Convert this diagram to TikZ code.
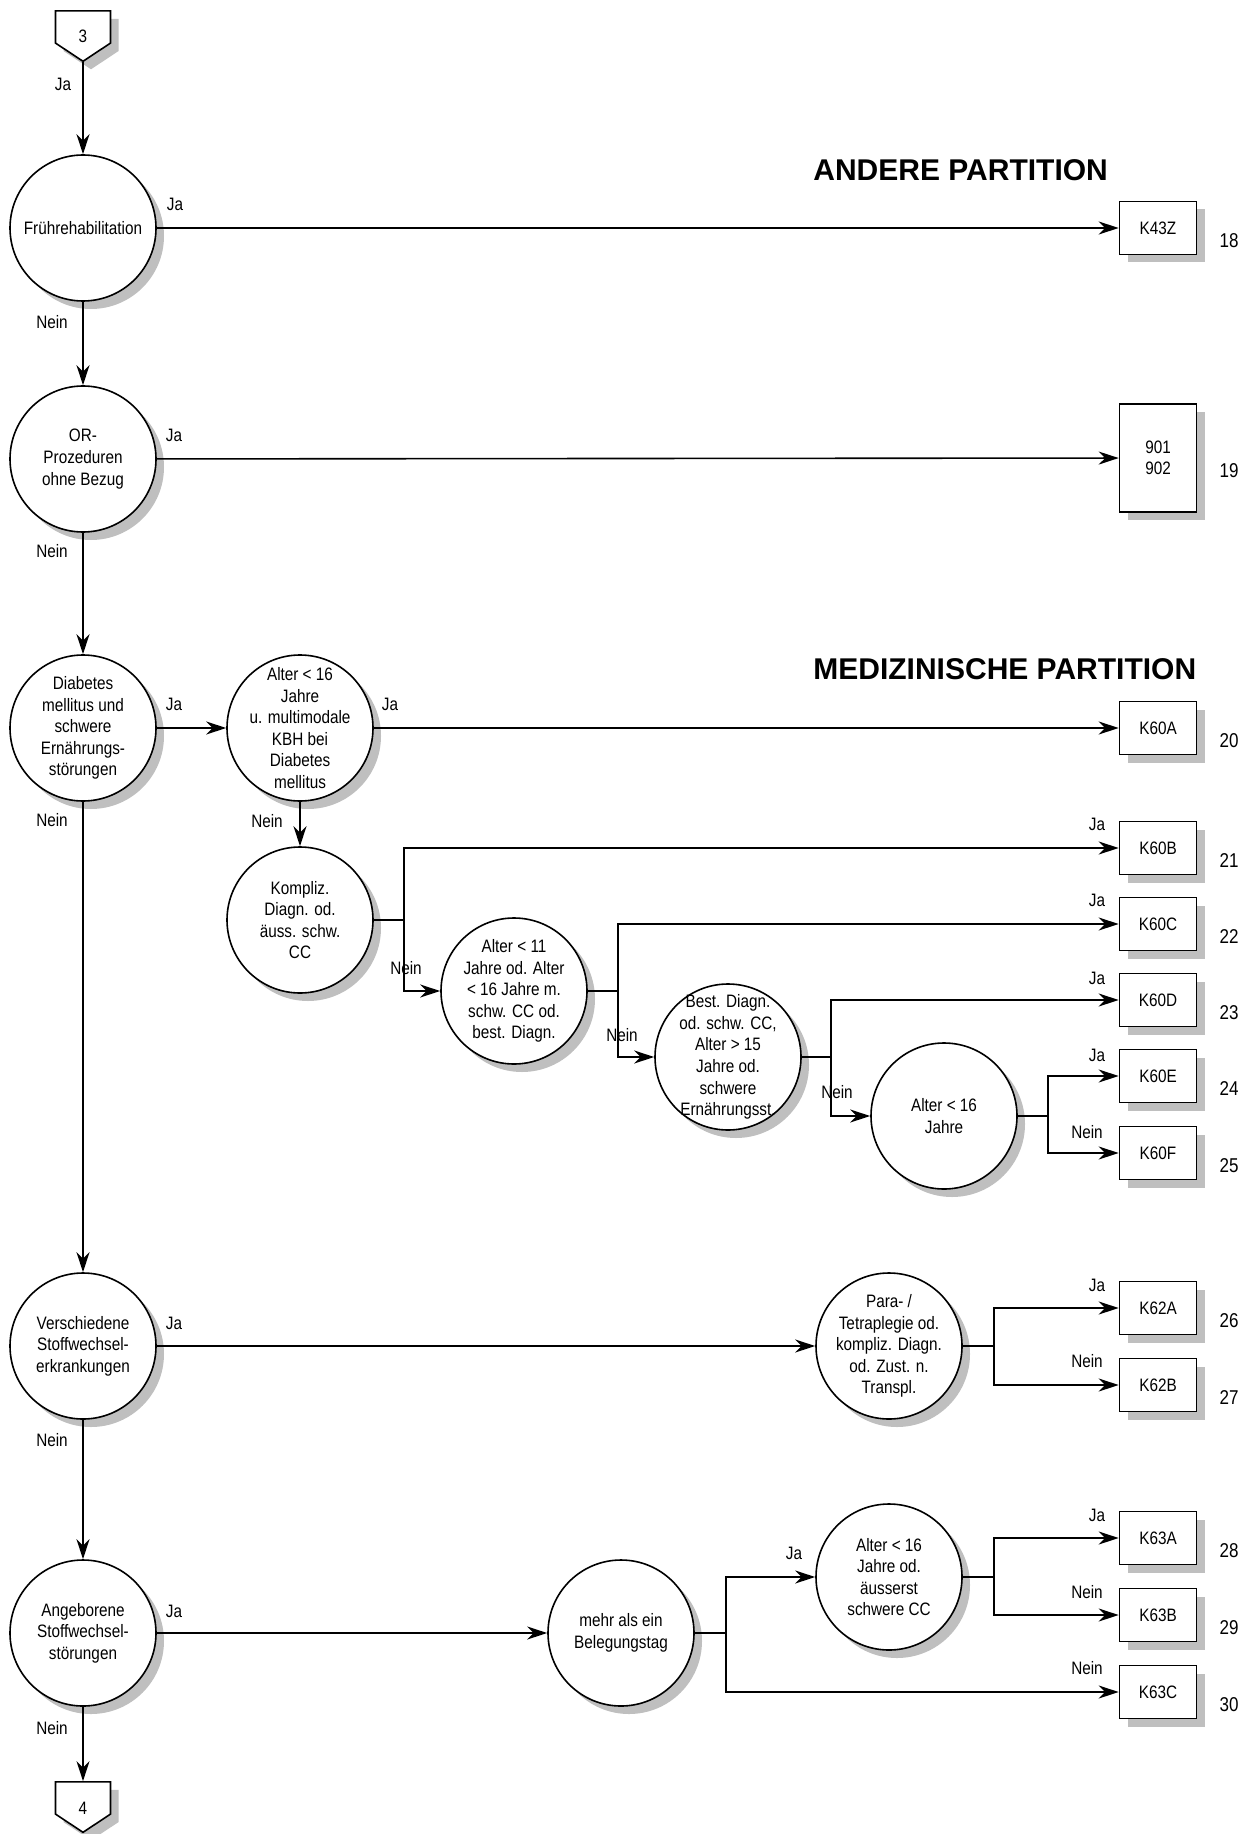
\documentclass[tikz,border=0pt]{standalone}
\usepackage{fontspec}
\setmainfont{Liberation Sans}[FakeStretch=0.85]
\newfontfamily\headfont{Liberation Sans}
\usetikzlibrary{arrows.meta,shadows,shapes.symbols}

\tikzset{
  shdw/.style={drop shadow={shadow xshift=4pt,shadow yshift=-4pt,fill=black!25,opacity=1}},
  dec/.style={circle, draw, fill=white, line width=0.8pt, minimum size=73pt, inner sep=-8pt, align=center, shdw},
  leaf/.style={rectangle, draw, fill=white, line width=0.8pt, minimum width=38.5pt, minimum height=26.5pt, align=center, shdw},
  conn/.style={signal, signal to=south, signal pointer angle=113, draw, fill=white, line width=0.8pt, minimum width=27.5pt, minimum height=17.5pt, inner sep=0pt, text height=16pt, text depth=0pt, shdw},
  lab/.style={inner sep=0pt},
  nr/.style={inner sep=0pt, font=\fontsize{10}{12}\selectfont},
  head/.style={inner sep=0pt, anchor=west, font=\headfont\bfseries\fontsize{15}{18}\selectfont},
  arr/.style={-{Stealth[length=10pt,width=6.5pt]}, line width=0.8pt}
}

\begin{document}
\begin{tikzpicture}[x=0.5pt, y=-0.5pt, font=\fontsize{9}{10.8}\selectfont]
\useasboundingbox (0,0) rectangle (1253,1834);

% Headings
\node[head] (andere) at (813,170) {ANDERE PARTITION};
\node[head] (medizin) at (813,669) {MEDIZINISCHE PARTITION};

% Connectors
\node[conn] (c3) at (83,27) {3};
\node[conn] (c4) at (83,1798) {4};

% Main column
\node[dec] (fr) at (83,228) {Frührehabilitation};
\node[dec] (orp) at (83,459) {OR-\\Prozeduren\\ohne Bezug};
\node[dec] (diab) at (83,728) {Diabetes\\mellitus und\\schwere\\Ernährungs-\\störungen};
\node[dec] (vers) at (83,1346) {Verschiedene\\Stoffwechsel-\\erkrankungen};
\node[dec] (ang) at (83,1633) {Angeborene\\Stoffwechsel-\\störungen};

% Diabetes branch
\node[dec] (a16) at (300,728) {Alter < 16\\Jahre\\u. multimodale\\KBH bei\\Diabetes\\mellitus};
\node[dec] (kompl) at (300,920) {Kompliz.\\Diagn. od.\\äuss. schw.\\CC};
\node[dec] (a11) at (514,991) {Alter < 11\\Jahre od. Alter\\< 16 Jahre m.\\schw. CC od.\\best. Diagn.};
\node[dec] (best) at (728,1057) {Best. Diagn.\\od. schw. CC,\\Alter > 15\\Jahre od.\\schwere\\Ernährungsst.};
\node[dec] (a16j) at (944,1116) {Alter < 16\\Jahre};

% Other branches
\node[dec] (para) at (889,1346) {Para- /\\Tetraplegie od.\\kompliz. Diagn.\\od. Zust. n.\\Transpl.};
\node[dec] (mehr) at (621,1633) {mehr als ein\\Belegungstag};
\node[dec] (a16s) at (889,1577) {Alter < 16\\Jahre od.\\äusserst\\schwere CC};

% Leaves
\node[leaf] (k43z) at (1158,228) {K43Z};
\node[leaf, minimum height=54pt] (or90) at (1158,458) {901\\902};
\node[leaf] (k60a) at (1158,728) {K60A};
\node[leaf] (k60b) at (1158,848) {K60B};
\node[leaf] (k60c) at (1158,924) {K60C};
\node[leaf] (k60d) at (1158,1000) {K60D};
\node[leaf] (k60e) at (1158,1076) {K60E};
\node[leaf] (k60f) at (1158,1153) {K60F};
\node[leaf] (k62a) at (1158,1308) {K62A};
\node[leaf] (k62b) at (1158,1385) {K62B};
\node[leaf] (k63a) at (1158,1538) {K63A};
\node[leaf] (k63b) at (1158,1615) {K63B};
\node[leaf] (k63c) at (1158,1692) {K63C};

% Numbers
\node[nr] (n18) at (1229,241) {18};
\node[nr] (n19) at (1229,471) {19};
\node[nr] (n20) at (1229,741) {20};
\node[nr] (n21) at (1229,861) {21};
\node[nr] (n22) at (1229,937) {22};
\node[nr] (n23) at (1229,1013) {23};
\node[nr] (n24) at (1229,1089) {24};
\node[nr] (n25) at (1229,1166) {25};
\node[nr] (n26) at (1229,1321) {26};
\node[nr] (n27) at (1229,1398) {27};
\node[nr] (n28) at (1229,1551) {28};
\node[nr] (n29) at (1229,1628) {29};
\node[nr] (n30) at (1229,1705) {30};

% Edges
\draw[arr] (c3) -- (fr) node[lab] at (63,84) {Ja};
\draw[arr] (fr) -- (k43z) node[lab] at (175,204) {Ja};
\draw[arr] (fr) -- (orp) node[lab] at (52,322) {Nein};
\draw[arr] (orp) -- (or90) node[lab] at (174,435) {Ja};
\draw[arr] (orp) -- (diab) node[lab] at (52,551) {Nein};
\draw[arr] (diab) -- (a16) node[lab] at (174,704) {Ja};
\draw[arr] (diab) -- (vers) node[lab] at (52,820) {Nein};
\draw[arr] (a16) -- (k60a) node[lab] at (390,704) {Ja};
\draw[arr] (a16) -- (kompl) node[lab] at (267,821) {Nein};
\draw[arr] (kompl.east) -- ++(30,0) |- (k60b) node[lab] at (1097,824) {Ja};
\draw[arr] (kompl.east) -- ++(30,0) |- (a11) node[lab] at (406,968) {Nein};
\draw[arr] (a11.east) -- ++(30,0) |- (k60c) node[lab] at (1097,900) {Ja};
\draw[arr] (a11.east) -- ++(30,0) |- (best) node[lab] at (622,1035) {Nein};
\draw[arr] (best.east) -- ++(29,0) |- (k60d) node[lab] at (1097,978) {Ja};
\draw[arr] (best.east) -- ++(29,0) |- (a16j) node[lab] at (837,1092) {Nein};
\draw[arr] (a16j.east) -- ++(30,0) |- (k60e) node[lab] at (1097,1055) {Ja};
\draw[arr] (a16j.east) -- ++(30,0) |- (k60f) node[lab] at (1087,1132) {Nein};
\draw[arr] (vers) -- (para) node[lab] at (174,1323) {Ja};
\draw[arr] (vers) -- (ang) node[lab] at (52,1440) {Nein};
\draw[arr] (para.east) -- ++(31,0) |- (k62a) node[lab] at (1097,1285) {Ja};
\draw[arr] (para.east) -- ++(31,0) |- (k62b) node[lab] at (1087,1361) {Nein};
\draw[arr] (ang) -- (mehr) node[lab] at (174,1611) {Ja};
\draw[arr] (ang) -- (c4) node[lab] at (52,1728) {Nein};
\draw[arr] (mehr.east) -- ++(31,0) |- (a16s) node[lab] at (794,1553) {Ja};
\draw[arr] (mehr.east) -- ++(31,0) |- (k63c) node[lab] at (1087,1668) {Nein};
\draw[arr] (a16s.east) -- ++(31,0) |- (k63a) node[lab] at (1097,1515) {Ja};
\draw[arr] (a16s.east) -- ++(31,0) |- (k63b) node[lab] at (1087,1592) {Nein};
\end{tikzpicture}
\end{document}
